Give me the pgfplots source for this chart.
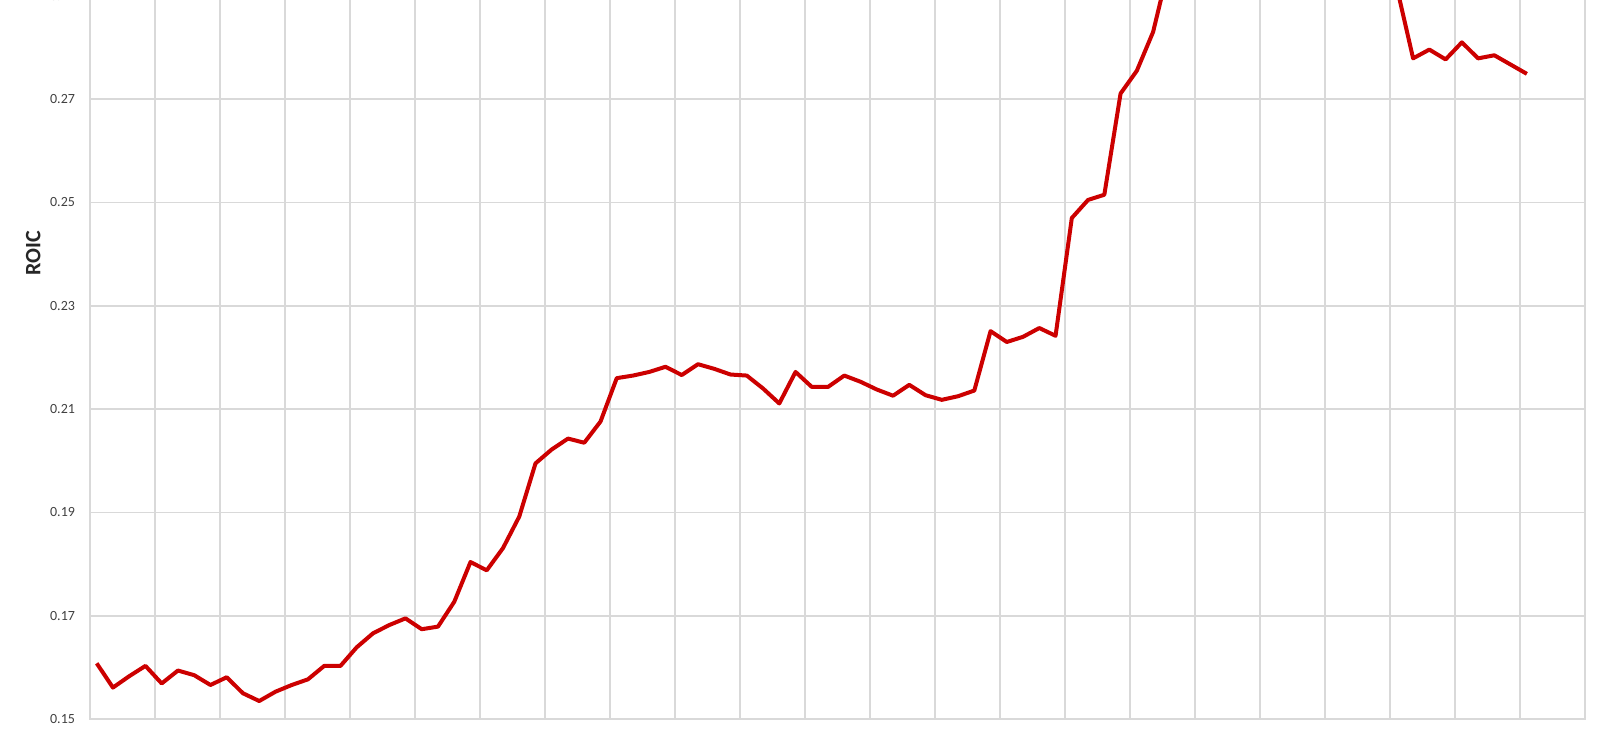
\documentclass[border=0pt]{standalone}
\usepackage{fontspec}
\setmainfont{Carlito}
\usepackage{pgfplots}
\pgfplotsset{compat=1.18}
\definecolor{roicred}{RGB}{204,0,0}
\definecolor{gridgray}{RGB}{217,217,217}
\begin{document}
\begin{tikzpicture}
\begin{axis}[
  scale only axis,
  width=747.5pt, height=387.4pt,
  xmin=-0.41, xmax=91.59,
  ymin=0.15, ymax=0.30,
  xtick={-0.41,3.59,...,91.6},
  xticklabels={},
  ytick={0.15,0.17,0.19,0.21,0.23,0.25,0.27,0.29},
  yticklabel style={/pgf/number format/fixed,/pgf/number format/precision=2,
     /pgf/number format/assume math mode=true,
     font=\fontsize{7}{8}\selectfont, text=black!75, xshift=-4pt},
  grid=major,
  major grid style={gridgray, line width=0.8pt},
  axis line style={gridgray, line width=0.8pt},
  tick style={draw=none},
  ylabel={\textbf{ROIC}},
  ylabel style={at={(ticklabel cs:0.6015)}, font=\fontsize{11}{12}\selectfont, text=black!85, yshift=-2pt},
  clip=true,
]
\addplot[roicred, line width=2pt, line join=round] coordinates {
(0,0.1608) (1,0.1561) (2,0.1583) (3,0.1603) (4,0.1569) (5,0.1594) (6,0.1585) (7,0.1566)
(8,0.1581) (9,0.1550) (10,0.1535) (11,0.1553) (12,0.1566) (13,0.1577) (14,0.1603) (15,0.1603)
(16,0.1639) (17,0.1666) (18,0.1682) (19,0.1695) (20,0.1674) (21,0.1679) (22,0.1727) (23,0.1804)
(24,0.1788) (25,0.1831) (26,0.1892) (27,0.1995) (28,0.2022) (29,0.2043) (30,0.2035) (31,0.2076)
(32,0.2160) (33,0.2165) (34,0.2172) (35,0.2182) (36,0.2166) (37,0.2187) (38,0.2178) (39,0.2167)
(40,0.2165) (41,0.2140) (42,0.2111) (43,0.2172) (44,0.2143) (45,0.2143) (46,0.2165) (47,0.2153)
(48,0.2138) (49,0.2126) (50,0.2147) (51,0.2127) (52,0.2118) (53,0.2125) (54,0.2136) (55,0.2251)
(56,0.2230) (57,0.2240) (58,0.2257) (59,0.2242) (60,0.2470) (61,0.2505) (62,0.2515) (63,0.2711)
(64,0.2755) (65,0.2830) (66,0.2960) (67,0.3005) (68,0.3035) (69,0.3050) (70,0.3070) (71,0.3085)
(72,0.3100) (73,0.3090) (74,0.3075) (75,0.3060) (76,0.3040) (77,0.3020) (78,0.2995) (79,0.2970)
(80,0.2916) (81,0.2779) (82,0.2796) (83,0.2777) (84,0.2810) (85,0.2779) (86,0.2785) (87,0.2767)
(88,0.2749)
};
\coordinate (bbl) at (axis cs:-5.95,0.14748);
\coordinate (btr) at (axis cs:92.5,0.2892);
\end{axis}
\pgfresetboundingbox
\useasboundingbox (bbl) rectangle (btr);
\end{tikzpicture}
\end{document}
